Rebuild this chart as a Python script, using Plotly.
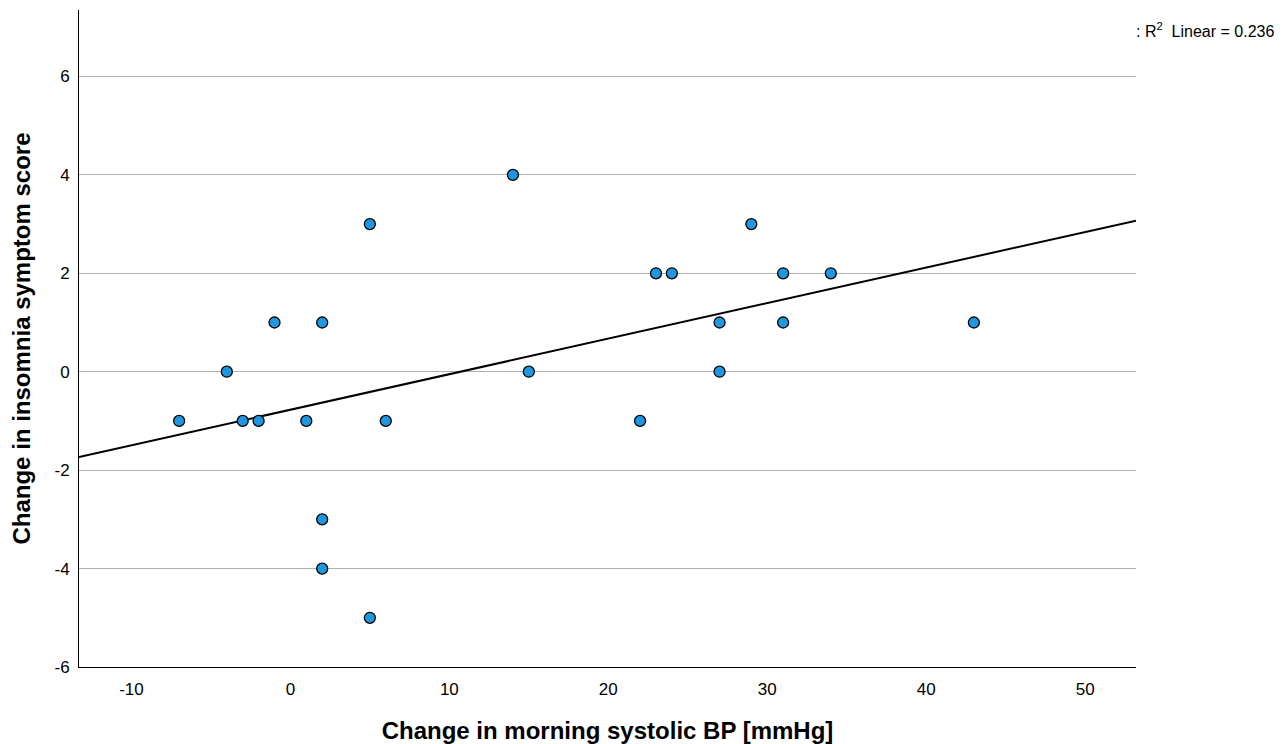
import numpy as np
import plotly.graph_objects as go

bp_change = [-7, -4, -3, -2, -1, 1, 2, 2, 2, 5, 5, 6, 14, 15, 22, 23, 24, 27, 27, 29, 31, 31, 34, 43]
insomnia_change = [-1, 0, -1, -1, 1, -1, 1, -3, -4, 3, -5, -1, 4, 0, -1, 2, 2, 1, 0, 3, 2, 1, 2, 1]
x_ticks = [-10, 0, 10, 20, 30, 40, 50]
y_ticks = [-6, -4, -2, 0, 2, 4, 6]
r2_text = ": R<sup>2</sup>  Linear = 0.236"

x_range = [-13.3, 53.2]
y_range = [-6, 7.35]

slope, intercept = np.polyfit(bp_change, insomnia_change, 1)
line_x = np.array(x_range)
line_y = slope * line_x + intercept

fig = go.Figure()
fig.add_trace(go.Scatter(x=line_x, y=line_y, mode="lines",
                         line=dict(color="black", width=2), showlegend=False, hoverinfo="skip"))
fig.add_trace(go.Scatter(x=bp_change, y=insomnia_change, mode="markers",
                         marker=dict(size=11, color="#1f97e0", line=dict(color="black", width=1.3)),
                         showlegend=False))

fig.update_layout(
    width=1276, height=736,
    margin=dict(l=71, r=148, t=2, b=77),
    paper_bgcolor="white", plot_bgcolor="white",
    font=dict(family="Liberation Sans, Arial, sans-serif", size=17, color="black"),
    xaxis=dict(range=x_range, tickvals=x_ticks, ticktext=[str(v) for v in x_ticks],
               showgrid=False, zeroline=False,
               showline=True, linecolor="black", linewidth=1, ticks="", ticklen=0,
               ticklabelstandoff=7,
               tickfont=dict(size=17), title=dict(text="<b>Change in morning systolic BP [mmHg]</b>",
               font=dict(size=24), standoff=24)),
    yaxis=dict(range=y_range, tickvals=y_ticks, ticktext=[str(v) for v in y_ticks],
               showgrid=True, gridcolor="#b0b0b0", gridwidth=1.4,
               zeroline=False, showline=True, linecolor="black", linewidth=1, ticks="",
               ticklabelstandoff=5,
               tickfont=dict(size=17), title=dict(text="<b>Change in insomnia symptom score</b>",
               font=dict(size=24), standoff=22)),
    annotations=[dict(text=r2_text, xref="paper", yref="paper", x=1.0, y=1.0,
                      xanchor="left", yanchor="top", xshift=-2, yshift=-8, showarrow=False,
                      font=dict(size=16))],
)
fig.write_html("out.html")
